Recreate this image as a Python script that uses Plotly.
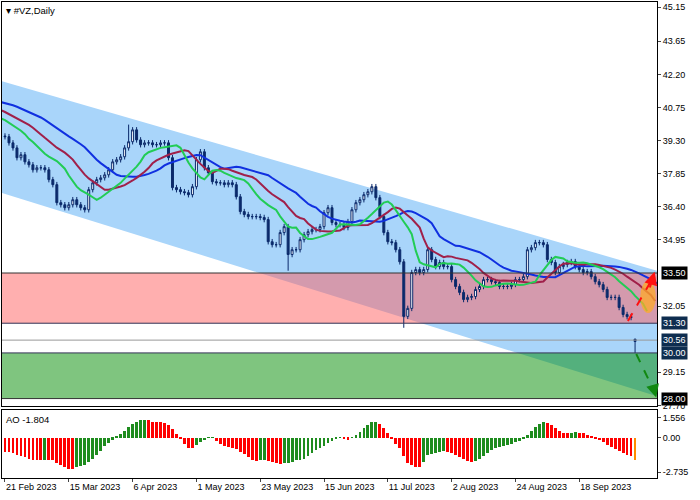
import numpy as np
import pandas as pd
import plotly.graph_objects as go

# closes before the visible window (needed for alligator / AO warm-up)
pre_closes = [41.9, 41.7, 42.0, 41.8, 41.5, 41.3, 41.6, 41.4, 41.1, 41.3, 41.4, 41.1,
              40.9, 41.0, 41.2, 40.9, 40.7, 40.9, 40.7, 40.5, 40.8, 40.9, 40.6, 40.3,
              40.5, 40.6, 40.4, 40.2, 40.3, 40.0, 39.8, 39.9, 39.6, 39.5]

closes = [39.47, 39.20, 38.98, 38.55, 38.68, 38.37, 38.24, 38.02, 38.11, 38.11, 38.02, 37.59,
          37.37, 36.58, 36.49, 36.36, 36.49, 36.71, 36.49, 36.36, 36.27, 37.15, 37.45, 37.59,
          37.67, 37.80, 38.02,
          38.37, 38.46, 38.59, 38.98, 39.25, 39.77, 39.33, 39.12, 39.20, 39.20, 39.12, 39.12,
          39.20, 39.20, 38.55, 37.24, 37.15, 37.06, 37.02, 36.93, 37.28, 38.46, 38.81, 38.11,
          37.89, 37.50, 37.45, 37.45, 37.37,
          37.45, 37.37, 36.84, 36.19, 36.06, 35.97, 35.97, 35.97, 35.93, 35.84, 34.87, 34.74,
          34.74, 35.27, 35.53, 34.31, 34.52, 34.52, 34.96, 35.18, 35.31, 35.40, 35.40, 35.53,
          36.14, 36.36, 35.71, 35.62, 35.62, 35.49, 35.75, 36.27, 36.58, 36.71, 36.93, 37.06,
          37.28, 36.80,
          35.97, 35.27, 34.87, 34.83, 34.52, 33.99, 31.60, 31.95, 33.52, 33.65, 33.52, 33.65,
          34.52, 34.09, 33.78, 33.96, 33.78, 33.78, 33.21, 32.91, 32.65, 32.34, 32.43, 32.47,
          32.78, 32.91, 33.21, 33.21, 33.12, 33.08, 32.91, 32.91, 32.91, 33.00, 33.21, 33.21,
          33.34,
          34.52, 34.61, 34.83, 34.83, 34.74, 34.09, 33.96, 33.52, 33.78, 33.87, 33.96, 34.00,
          33.78, 33.65, 33.52, 33.56, 33.34, 33.12, 32.99, 32.78, 32.43, 32.43, 32.43, 31.99,
          31.68, 31.59, 31.55, 30.50]

open_override = {158: 30.60}
low_override = {100: 31.10, 71: 33.60, 158: 30.00}
high_override = {31: 40.00, 158: 30.62}

holidays = ["2023-04-07", "2023-05-29", "2023-06-19", "2023-07-04", "2023-09-04"]
days = pd.bdate_range("2023-02-21", periods=170, freq="C", holidays=holidays)[:len(closes)]
tick_idx = list(range(0, 160, 16))
tick_text = [days[i].strftime("%-d %b %Y") for i in tick_idx]

levels_main = [45.15, 43.65, 42.20, 40.75, 39.30, 37.85, 36.40, 34.95, 32.05, 29.15, 27.70]
levels_ao = [1.556, 0.0, -2.735]

# build OHLC
allc = pre_closes + closes
n_pre = len(pre_closes)
opens, highs, lows = [], [], []
for i, c in enumerate(closes):
    o = open_override.get(i, allc[n_pre + i - 1])
    opens.append(o)
    highs.append(high_override.get(i, max(o, c) + 0.12))
    lows.append(low_override.get(i, min(o, c) - 0.12))
x = list(range(len(closes)))

# alligator (smma of close, shifted)
def smma(vals, n):
    out = [vals[0]]
    for v in vals[1:]:
        out.append((out[-1] * (n - 1) + v) / n)
    return np.array(out)

allx = np.arange(-n_pre, len(closes))
fig = go.Figure()

# AO
s = pd.Series(allc)
ao_all = (s.rolling(5).mean() - s.rolling(34).mean()).values
ao = ao_all[n_pre:]
ao_cols = []
for i in range(len(ao)):
    prev = ao_all[n_pre + i - 1]
    ao_cols.append("#1E8C1E" if np.isnan(prev) or ao[i] >= prev else "#FF0000")
ao_cols[-1] = "#FF8C00"

fig.add_bar(x=x, y=ao, marker_color=ao_cols, marker_line_width=0, width=0.7,
            xaxis="x2", yaxis="y2", showlegend=False)

fig.add_candlestick(x=x, open=opens, high=highs, low=lows, close=closes,
                    increasing=dict(line=dict(color="#0B2A6B", width=1), fillcolor="white"),
                    decreasing=dict(line=dict(color="#0B2A6B", width=1), fillcolor="#0B2A6B"),
                    whiskerwidth=0, showlegend=False)

for n, sh, col in [(13, 8, "#1030E0"), (8, 5, "#A0204A"), (5, 3, "#22CC55")]:
    fig.add_scatter(x=allx + sh, y=smma(allc, n), mode="lines",
                    line=dict(color=col, width=2), showlegend=False)

# channel + zones
x0, x1 = -0.75, 163.5
shapes = [
    dict(type="path", path=f"M {x0},41.9 L {x1},33.6 L {x1},28.1 L {x0},37.0 Z",
         fillcolor="#A9D5FA", line_width=0, layer="below"),
    dict(type="rect", x0=x0, x1=x1, y0=31.30, y1=33.50, fillcolor="rgba(255,95,95,0.5)",
         line_width=0, layer="below"),
    dict(type="rect", x0=x0, x1=x1, y0=28.00, y1=30.00, fillcolor="rgba(0,140,0,0.5)",
         line_width=0, layer="below"),
    dict(type="circle", x0=159.3, x1=163.2, y0=31.75, y1=33.15,
         fillcolor="rgba(255,170,40,0.75)", line_width=0),
    dict(type="line", x0=156.2, x1=162.2, y0=31.40, y1=33.20,
         line=dict(color="#FF1010", width=2, dash="dash")),
    dict(type="line", x0=158.3, x1=163.0, y0=29.95, y1=28.25,
         line=dict(color="#118811", width=2, dash="dash")),
]
for lv, col in [(33.50, "#333333"), (31.30, "#333355"), (30.56, "#999999"),
                (30.00, "#333355"), (28.00, "#333333")]:
    shapes.append(dict(type="line", x0=x0, x1=x1, y0=lv, y1=lv, line=dict(color=col, width=1)))

annotations = [
    dict(x=162.9, y=33.55, ax=161.6, ay=32.8, xref="x", yref="y", axref="x", ayref="y",
         showarrow=True, arrowhead=2, arrowsize=1.3, arrowwidth=2, arrowcolor="#FF1010", text=""),
    dict(x=163.3, y=28.05, ax=162.4, ay=28.6, xref="x", yref="y", axref="x", ayref="y",
         showarrow=True, arrowhead=2, arrowsize=1.3, arrowwidth=2, arrowcolor="#118811", text=""),
    dict(x=0.003, y=0.998, xref="paper", yref="paper", xanchor="left", yanchor="top",
         text="▾ #VZ,Daily", showarrow=False, font=dict(size=9.5, color="black")),
    dict(x=0.003, y=0.138, xref="paper", yref="paper", xanchor="left", yanchor="top",
         text="AO -1.804", showarrow=False, font=dict(size=9.5, color="black")),
]
for lv, bg in [(33.50, "black"), (31.30, "#0E2D4F"), (30.56, "#0E2D4F"),
               (30.00, "#0E2D4F"), (28.00, "black")]:
    annotations.append(dict(x=1.0, y=lv, xref="paper", yref="y", xanchor="left", yanchor="middle",
                            text=f"{lv:.2f}", showarrow=False, bgcolor=bg, xshift=4,
                            font=dict(size=9, color="white"), borderpad=1))

axis_common = dict(showgrid=False, zeroline=False, showline=True, mirror=True,
                   linecolor="black", linewidth=1, automargin=False, tickangle=0)
fig.update_layout(
    width=700, height=500, margin=dict(l=2, r=43, t=2, b=22),
    plot_bgcolor="white", paper_bgcolor="white", bargap=0,
    font=dict(family="Liberation Sans", size=9, color="black"),
    shapes=shapes, annotations=annotations,
    xaxis=dict(range=[x0, x1], domain=[0, 1], anchor="y", showticklabels=False,
               rangeslider=dict(visible=False), ticks="", **axis_common),
    yaxis=dict(domain=[0.152, 1], range=[27.70 - 0.01, 45.37], side="right",
               tickvals=levels_main, ticktext=[f"{v:.2f}" for v in levels_main],
               ticks="outside", ticklen=3, **axis_common),
    xaxis2=dict(range=[x0, x1], domain=[0, 1], anchor="y2", tickvals=tick_idx,
                ticktext=tick_text, ticks="outside", ticklen=3,
                ticklabelposition="outside right", **axis_common),
    yaxis2=dict(domain=[0, 0.143], range=[-3.21, 2.19], side="right",
                tickvals=levels_ao, ticktext=["1.556", "0.00", "-2.735"],
                ticks="outside", ticklen=3, **axis_common),
)

fig.write_html("out.html", config={"displayModeBar": False},
               post_script="document.body.style.margin='0';")
